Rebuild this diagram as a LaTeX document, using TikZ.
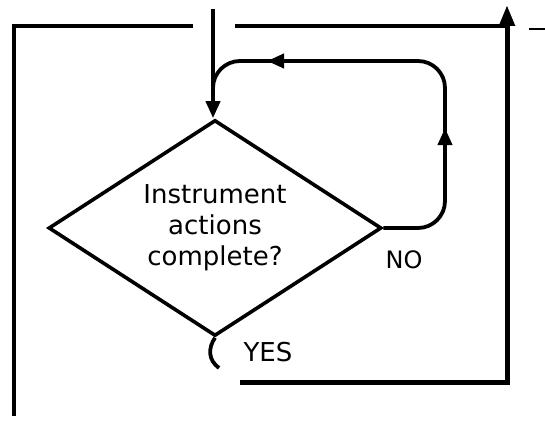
\documentclass[tikz,border=0pt]{standalone}
\usepackage{fontspec}
\setmainfont{DejaVu Sans}
\usetikzlibrary{shapes.geometric,arrows.meta}
\begin{document}
\begin{tikzpicture}[x=1pt,y=-1pt,
  ln/.style={line width=3.8pt, line cap=butt},
  heavy/.style={line width=5pt},
  thin/.style={line width=3.4pt},
  tipsm/.style={-{Triangle[length=17pt,width=14pt]}},
  tipbig/.style={-{Triangle[length=21pt,width=15pt]}},
  decision/.style={draw, diamond, line width=3.6pt, minimum width=333pt, minimum height=216pt,
    inner sep=0pt, aspect=1.54, align=center, font=\fontsize{26}{31}\selectfont},
  lbl/.style={inner sep=0pt}]
\useasboundingbox (0,0) rectangle (545,428);
% decision
\node[decision] (d) at (215,228) {Instrument\\actions\\complete?};
% coordinates
\coordinate (topin) at (213,9);
\coordinate (join) at (213,100);
\coordinate (loopup) at (445,128);
\coordinate (loopleft) at (267,61);
\coordinate (yesend) at (219,368);
\coordinate (botl) at (240,382);
\coordinate (botr) at (507,382);
\coordinate (toptip) at (507,5);
\coordinate (tl1) at (14,26);
\coordinate (tl2) at (193,26);
\coordinate (tr1) at (235,26);
\coordinate (tr2) at (507,26);
\coordinate (lb) at (14,416);
\coordinate (dash1) at (529,29);
\coordinate (dash2) at (545,29);
% entry arrow
\draw[ln, tipsm] (topin) -- (topin |- d.north);
% loop back
\draw[ln, rounded corners=27pt] (d.east) -| (445,61) -| (join);
\draw[ln, tipsm] (445,150) -- (loopup);
\draw[ln, tipsm] (290,61) -- (loopleft);
% yes exit
\draw[ln] (d.south) .. controls (208,348) and (208,360) .. (yesend);
\node[lbl, font=\fontsize{26}{28}\selectfont] (yes) at (268,352) {YES};
\node[lbl, font=\fontsize{24}{26}\selectfont] (no) at (404,260) {NO};
% outer frame
\draw[heavy, tipbig] (botl) -- (botr) -- (toptip);
\draw[thin] (tl2) -- (tl1) -- (lb);
\draw[thin] (tr1) -- (tr2);
\draw[line width=2.4pt] (dash1) -- (dash2);
\end{tikzpicture}
\end{document}
